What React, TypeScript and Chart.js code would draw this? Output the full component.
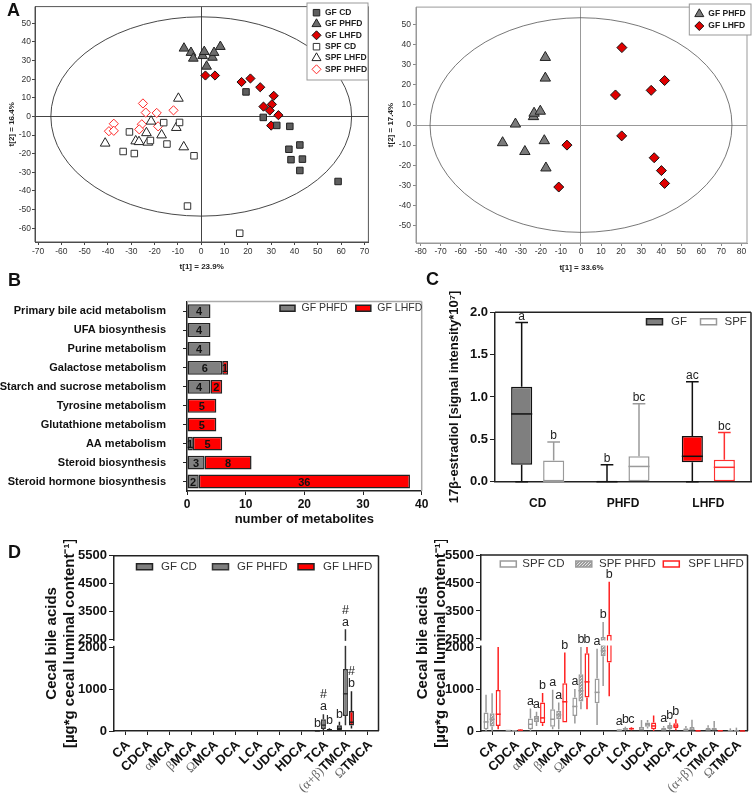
import React, { useEffect, useRef } from 'react';
import { Chart, registerables, LinearScale } from 'chart.js';

Chart.register(...registerables);

const SANS = "'Liberation Sans', Arial, Helvetica, sans-serif";
const SERIF = "'Liberation Serif', 'DejaVu Serif', 'Times New Roman', serif";
Chart.defaults.font.family = SANS;
Chart.defaults.color = '#222';

// ================= DATA =================
// Panel A (left) – PCA scores [t1, t2]
const A1_X_TICKS = [-70, -60, -50, -40, -30, -20, -10, 0, 10, 20, 30, 40, 50, 60, 70];
const A1_Y_TICKS = [-60, -50, -40, -30, -20, -10, 0, 10, 20, 30, 40, 50];
const A1_GF_CD = [[19.2, 13.2], [26.6, -0.5], [32.4, -4.8], [38.0, -5.3], [37.6, -17.6], [42.3, -15.3], [38.5, -23.2], [43.4, -22.9], [42.3, -29.0], [58.7, -34.9]];
const A1_GF_PHFD = [[-7.4, 36.6], [-4.4, 34.3], [-3.4, 31.2], [0.6, 32.6], [1.3, 34.8], [2.3, 26.9], [4.8, 31.7], [5.5, 34.3], [8.2, 37.5]];
const A1_GF_LHFD = [[1.8, 22.0], [5.9, 22.0], [17.3, 18.5], [21.1, 20.4], [25.3, 15.7], [31.1, 11.1], [26.7, 5.3], [30.3, 6.5], [29.4, 3.2], [33.1, 0.7], [30.0, -4.9]];
const A1_SPF_CD = [[-30.8, -8.3], [-33.5, -18.8], [-28.7, -19.9], [-21.8, -12.9], [-16.1, -3.3], [-14.7, -14.8], [-9.3, -3.2], [-3.1, -21.1], [-5.9, -48.1], [16.5, -62.7]];
const A1_SPF_LHFD = [[-41.2, -14.4], [-28.1, -13.2], [-26.7, -13.6], [-22.9, -13.9], [-23.5, -8.8], [-21.5, -2.6], [-17.0, -10.0], [-10.7, -6.0], [-9.8, 9.7], [-7.5, -16.4]];
const A1_SPF_PHFD = [[-39.6, -7.9], [-37.5, -3.9], [-37.5, -7.7], [-25.0, 7.0], [-23.8, 2.1], [-19.1, 1.9], [-25.5, -4.2], [-26.6, -6.9], [-18.5, -5.3], [-11.9, 3.3]];
const A1_ELLIPSE = [64.5, 53.5];

// Panel A (right)
const A2_X_TICKS = [-80, -70, -60, -50, -40, -30, -20, -10, 0, 10, 20, 30, 40, 50, 60, 70, 80];
const A2_Y_TICKS = [-50, -40, -30, -20, -10, 0, 10, 20, 30, 40, 50];
const A2_GF_PHFD = [[-17.8, 33.7], [-17.8, 23.4], [-23.7, 4.2], [-23.4, 5.9], [-20.3, 6.9], [-32.7, 0.5], [-39.1, -8.8], [-18.3, -7.8], [-28.0, -13.2], [-17.5, -21.4]];
const A2_GF_LHFD = [[20.4, 38.6], [17.2, 15.0], [35.0, 17.3], [41.7, 22.2], [20.3, -5.4], [-7.0, -10.0], [-11.1, -30.9], [36.5, -16.3], [40.1, -22.7], [41.7, -29.1]];
const A2_ELLIPSE = [75.3, 53.5];

// Panel B – pathways
const B_PATHWAYS = ['Primary bile acid metabolism', 'UFA biosynthesis', 'Purine metabolism', 'Galactose metabolism', 'Starch and sucrose metabolism', 'Tyrosine metabolism', 'Glutathione metabolism', 'AA metabolism', 'Steroid biosynthesis', 'Steroid hormone biosynthesis'];
const B_GF_PHFD = [4, 4, 4, 6, 4, 0, 0, 1, 3, 2];
const B_GF_LHFD = [0, 0, 0, 1, 2, 5, 5, 5, 8, 36];
const B_X_TICKS = [0, 10, 20, 30, 40];

// Panel C – 17β-estradiol [min, q1, median, q3, max]
const C_DIETS = ['CD', 'PHFD', 'LHFD'];
const C_GF = [[0, 0.2, 0.8, 1.12, 1.88], [0, 0, 0, 0, 0.2], [0, 0.23, 0.3, 0.54, 1.18]];
const C_SPF = [[0, 0, 0, 0.25, 0.47], [0, 0, 0.18, 0.3, 0.92], [0, 0, 0.17, 0.26, 0.58]];
const C_GF_LETTERS = ['a', 'b', 'ac'];
const C_SPF_LETTERS = ['b', 'bc', 'bc'];
const C_Y_TICKS = [0, 0.5, 1.0, 1.5, 2.0];

// Panel D – cecal bile acids [min, q1, median, q3, max]
const D_ACIDS = ['CA', 'CDCA', 'αMCA', 'βMCA', 'ΩMCA', 'DCA', 'LCA', 'UDCA', 'HDCA', 'TCA', '(α+β)TMCA', 'ΩTMCA'];
const D_Y_TICKS = [0, 1000, 2000, 2500, 3500, 4500, 5500];
const D_GF_CD = [null, null, null, null, null, null, null, null, null, [0, 0, 2, 5, 10], [0, 10, 60, 140, 220], null];
const D_GF_PHFD = [null, null, null, null, null, null, null, null, null, [20, 50, 140, 280, 400], [140, 360, 890, 1480, 2860], null];
const D_GF_LHFD = [null, null, null, null, null, null, null, null, null, [0, 10, 25, 45, 65], [60, 130, 210, 480, 950], null];
const D_GF_CD_LETTERS = ['', '', '', '', '', '', '', '', '', 'b', 'b', ''];
const D_GF_PHFD_LETTERS = ['', '', '', '', '', '', '', '', '', ['#', 'a'], ['#', 'a'], ''];
const D_GF_LHFD_LETTERS = ['', '', '', '', '', '', '', '', '', 'b', ['#', 'b'], ''];
const D_SPF_CD = [[0, 40, 216, 440, 864], [0, 5, 10, 15, 25], [0, 40, 160, 296, 536], [40, 104, 280, 520, 980], [176, 360, 584, 800, 1000], [143, 660, 920, 1250, 1960], [0, 10, 20, 35, 50], [0, 0, 40, 96, 260], [0, 0, 30, 80, 120], [0, 0, 20, 64, 120], [0, 0, 30, 80, 136], [0, 0, 5, 10, 64]];
const D_SPF_PHFD = [[0, 110, 280, 420, 900], [0, 2, 5, 8, 12], [120, 216, 296, 360, 456], [40, 280, 384, 480, 680], [520, 700, 960, 1350, 2000], [1070, 1780, 1910, 2570, 3110], [10, 30, 50, 70, 100], [60, 104, 160, 200, 264], [20, 40, 90, 144, 200], [0, 0, 40, 96, 270], [0, 0, 40, 80, 240], [0, 0, 5, 10, 80]];
const D_SPF_LHFD = [[40, 120, 400, 976, 2000], [5, 10, 20, 30, 40], [120, 184, 312, 680, 904], [200, 200, 696, 1140, 1870], [520, 800, 1170, 1850, 2000], [830, 1630, 2300, 2655, 4543], [20, 40, 55, 70, 90], [0, 40, 120, 200, 370], [16, 64, 120, 184, 280], [0, 2, 4, 6, 10], [0, 3, 6, 10, 15], [0, 1, 2, 3, 5]];
const D_SPF_CD_LETTERS = ['', '', 'a', 'a', 'a', 'a', 'a', '', 'a', '', '', ''];
const D_SPF_PHFD_LETTERS = ['', '', 'a', 'a', 'b', 'b', 'b', '', 'b', '', '', ''];
const D_SPF_LHFD_LETTERS = ['', '', 'b', 'b', 'b', 'b', 'c', '', 'b', '', '', ''];

// ================= BROKEN Y SCALE (0–2000 | 2500–5500) =================
const BREAK_LOW = 2000;
const BREAK_HIGH = 2500;
const D_MAX = 5500;
const LOW_FRAC = 0.4772;
const GAP_FRAC = 0.0456;

function brokenDecimal(v: number) {
  if (v <= BREAK_LOW) return (v / BREAK_LOW) * LOW_FRAC;
  if (v <= BREAK_HIGH) return LOW_FRAC + ((v - BREAK_LOW) / (BREAK_HIGH - BREAK_LOW)) * GAP_FRAC;
  return LOW_FRAC + GAP_FRAC + ((v - BREAK_HIGH) / (D_MAX - BREAK_HIGH)) * (1 - LOW_FRAC - GAP_FRAC);
}
function brokenValue(d: number) {
  if (d <= LOW_FRAC) return (d / LOW_FRAC) * BREAK_LOW;
  if (d <= LOW_FRAC + GAP_FRAC) return BREAK_LOW + ((d - LOW_FRAC) / GAP_FRAC) * (BREAK_HIGH - BREAK_LOW);
  return BREAK_HIGH + ((d - LOW_FRAC - GAP_FRAC) / (1 - LOW_FRAC - GAP_FRAC)) * (D_MAX - BREAK_HIGH);
}

class BrokenScale extends LinearScale {
  static id = 'broken';
  static defaults = LinearScale.defaults;
  getPixelForValue(value: any) {
    if (value === null || value === undefined || isNaN(value)) return NaN;
    return this.getPixelForDecimal(brokenDecimal(value));
  }
  getValueForPixel(pixel: number) {
    return brokenValue(this.getDecimalForPixel(pixel));
  }
}
Chart.register(BrokenScale as any);

// ================= PLUGINS =================
const framePlugin = {
  id: 'frame',
  afterDraw(chart: any, _a: any, o: any) {
    if (!o || !o.color) return;
    const { ctx, chartArea } = chart;
    const { left, right, top, bottom } = chartArea;
    const sides = o.sides || 'tlbr';
    ctx.save();
    ctx.strokeStyle = o.color;
    ctx.lineWidth = o.width || 1;
    ctx.beginPath();
    if (sides.includes('t')) { ctx.moveTo(left, top); ctx.lineTo(right, top); }
    if (sides.includes('r')) { ctx.moveTo(right, top); ctx.lineTo(right, bottom); }
    if (sides.includes('b')) { ctx.moveTo(left, bottom); ctx.lineTo(right, bottom); }
    if (sides.includes('l')) { ctx.moveTo(left, top); ctx.lineTo(left, bottom); }
    ctx.stroke();
    ctx.restore();
  },
};

const ellipsePlugin = {
  id: 'ellipse',
  beforeDatasetsDraw(chart: any, _a: any, o: any) {
    if (!o || !o.radii) return;
    const { ctx } = chart;
    const xs = chart.scales.x;
    const ys = chart.scales.y;
    const cx = xs.getPixelForValue(0);
    const cy = ys.getPixelForValue(0);
    const rx = Math.abs(xs.getPixelForValue(o.radii[0]) - cx);
    const ry = Math.abs(ys.getPixelForValue(o.radii[1]) - cy);
    ctx.save();
    ctx.strokeStyle = o.color;
    ctx.lineWidth = o.width || 1;
    ctx.beginPath();
    ctx.ellipse(cx, cy, rx, ry, 0, 0, Math.PI * 2);
    ctx.stroke();
    ctx.restore();
  },
};

function drawMarker(ctx: any, m: any, x: number, y: number) {
  ctx.beginPath();
  if (m.shape === 'rect') {
    ctx.rect(x - m.w / 2, y - m.h / 2, m.w, m.h);
  } else if (m.shape === 'triangle') {
    const r = m.r;
    ctx.moveTo(x, y - r);
    ctx.lineTo(x + r * 0.866, y + r * 0.5);
    ctx.lineTo(x - r * 0.866, y + r * 0.5);
    ctx.closePath();
  } else if (m.shape === 'diamond') {
    const r = m.r;
    ctx.moveTo(x, y - r);
    ctx.lineTo(x + r, y);
    ctx.lineTo(x, y + r);
    ctx.lineTo(x - r, y);
    ctx.closePath();
  }
  ctx.fillStyle = m.fill;
  ctx.fill();
  ctx.strokeStyle = m.stroke;
  ctx.lineWidth = m.lw || 1;
  ctx.stroke();
}

const legendPlugin = {
  id: 'miniLegend',
  afterDraw(chart: any, _a: any, o: any) {
    if (!o || !o.items) return;
    const { ctx } = chart;
    ctx.save();
    if (o.box) {
      ctx.fillStyle = '#fff';
      ctx.fillRect(o.box.x, o.box.y, o.box.w, o.box.h);
      ctx.strokeStyle = o.box.color;
      ctx.lineWidth = 1;
      ctx.strokeRect(o.box.x, o.box.y, o.box.w, o.box.h);
    }
    o.items.forEach((it: any) => {
      drawMarker(ctx, it.marker, it.mx, it.y);
      ctx.font = o.font;
      ctx.fillStyle = o.color;
      ctx.textBaseline = 'middle';
      ctx.textAlign = 'left';
      ctx.fillText(it.text, it.tx, it.y);
    });
    ctx.restore();
  },
};

const barLabelPlugin = {
  id: 'barLabels',
  afterDatasetsDraw(chart: any, _a: any, o: any) {
    if (!o || !o.font) return;
    const { ctx } = chart;
    ctx.save();
    ctx.font = o.font;
    ctx.fillStyle = o.color;
    ctx.textAlign = 'center';
    ctx.textBaseline = 'middle';
    chart.data.datasets.forEach((ds: any, di: number) => {
      const meta = chart.getDatasetMeta(di);
      meta.data.forEach((el: any, i: number) => {
        const v = ds.data[i];
        if (!v) return;
        ctx.fillText(String(v), (el.x + el.base) / 2, el.y + 1);
      });
    });
    ctx.restore();
  },
};

const boxPlugin = {
  id: 'boxplot',
  beforeDatasetsDraw(chart: any, _a: any, o: any) {
    if (!o || !o.stats) return;
    const { ctx } = chart;
    const ys = chart.scales.y;
    ctx.save();
    ctx.lineWidth = o.lineWidth;
    chart.data.datasets.forEach((_ds: any, di: number) => {
      const meta = chart.getDatasetMeta(di);
      meta.data.forEach((el: any, i: number) => {
        const s = o.stats[di][i];
        if (!s) return;
        const yMin = ys.getPixelForValue(s[0]);
        const yQ1 = ys.getPixelForValue(s[1]);
        const yQ3 = ys.getPixelForValue(s[3]);
        const yMax = ys.getPixelForValue(s[4]);
        ctx.strokeStyle = el.options.borderColor;
        ctx.beginPath();
        ctx.moveTo(el.x, yQ3);
        ctx.lineTo(el.x, yMax);
        ctx.moveTo(el.x, yQ1);
        ctx.lineTo(el.x, yMin);
        if (o.cap) {
          const c = (el.width * o.cap) / 2;
          ctx.moveTo(el.x - c, yMax);
          ctx.lineTo(el.x + c, yMax);
          if (s[0] !== s[1]) {
            ctx.moveTo(el.x - c, yMin);
            ctx.lineTo(el.x + c, yMin);
          }
        }
        ctx.stroke();
      });
    });
    ctx.restore();
  },
  afterDatasetsDraw(chart: any, _a: any, o: any) {
    if (!o || !o.stats) return;
    const { ctx, chartArea } = chart;
    const ys = chart.scales.y;
    ctx.save();
    ctx.lineWidth = o.lineWidth;
    chart.data.datasets.forEach((_ds: any, di: number) => {
      const meta = chart.getDatasetMeta(di);
      meta.data.forEach((el: any, i: number) => {
        const s = o.stats[di][i];
        if (!s) return;
        const yMed = ys.getPixelForValue(s[2]);
        ctx.strokeStyle = el.options.borderColor;
        ctx.beginPath();
        ctx.moveTo(el.x - el.width / 2, yMed);
        ctx.lineTo(el.x + el.width / 2, yMed);
        ctx.stroke();
      });
    });
    if (o.breakBand) {
      const yA = ys.getPixelForValue(BREAK_HIGH);
      const yB = ys.getPixelForValue(BREAK_LOW);
      ctx.fillStyle = '#fff';
      ctx.fillRect(chartArea.left - 3, yA + 1.5, chartArea.right - chartArea.left + 2, yB - yA - 3);
    }
    if (o.letters) {
      ctx.font = o.letterFont;
      ctx.fillStyle = o.letterColor;
      ctx.textAlign = 'center';
      ctx.textBaseline = 'bottom';
      chart.data.datasets.forEach((_ds: any, di: number) => {
        const meta = chart.getDatasetMeta(di);
        const letters = o.letters[di];
        letters.forEach((lab: any, i: number) => {
          if (!lab) return;
          const s = o.stats[di][i];
          const el = meta.data[i];
          if (!s || !el) return;
          const lines = Array.isArray(lab) ? lab : [lab];
          let y = ys.getPixelForValue(s[4]) - o.letterGap;
          for (let k = lines.length - 1; k >= 0; k--) {
            ctx.fillText(lines[k], el.x, y);
            y -= o.letterLine;
          }
        });
      });
    }
    ctx.restore();
  },
};

const rotLabelPlugin = {
  id: 'rotLabels',
  afterDraw(chart: any, _a: any, o: any) {
    if (!o || !o.labels) return;
    const { ctx, chartArea } = chart;
    const xs = chart.scales.x;
    o.labels.forEach((lab: string, i: number) => {
      const x = xs.getPixelForValue(i) + o.dx;
      const y = chartArea.bottom + o.dy;
      const k = lab.search(/[A-Z]/);
      const pre = lab.slice(0, k);
      const main = lab.slice(k);
      ctx.save();
      ctx.translate(x, y);
      ctx.rotate(-Math.PI / 4);
      ctx.textBaseline = 'middle';
      ctx.textAlign = 'left';
      ctx.font = o.font;
      const wMain = ctx.measureText(main).width;
      ctx.font = o.greekFont;
      const wPre = ctx.measureText(pre).width;
      ctx.fillStyle = o.greekColor;
      ctx.fillText(pre, -wMain - wPre, 0);
      ctx.font = o.font;
      ctx.fillStyle = o.color;
      ctx.fillText(main, -wMain, 0);
      ctx.restore();
    });
  },
};

// ================= HELPERS =================
function fixedTicks(list: number[]) {
  return (s: any) => {
    s.ticks = list.map((v) => ({ value: v }));
  };
}

function pts(list: number[][]) {
  return list.map(([x, y]) => ({ x, y }));
}

function scatterSet(label: string, list: number[][], style: string, r: number, fill: string, stroke: string) {
  return {
    label,
    data: pts(list),
    pointStyle: style,
    pointRadius: r,
    backgroundColor: fill,
    borderColor: stroke,
    borderWidth: 1,
  };
}

function makeDots() {
  const c = document.createElement('canvas');
  c.width = 3;
  c.height = 3;
  const g = c.getContext('2d') as any;
  g.fillStyle = '#9c9c9c';
  g.fillRect(0, 0, 3, 3);
  g.fillStyle = '#e4e4e4';
  g.fillRect(0, 0, 1, 1);
  g.fillRect(1, 2, 1, 1);
  g.fillRect(2, 1, 1, 1);
  return g.createPattern(c, 'repeat');
}

const TIP_OFF = { legend: { display: false }, tooltip: { enabled: false } };

// ================= CHART CONFIGS =================
function configA1() {
  const tickFont = { size: 8.5 };
  return {
    type: 'scatter',
    data: {
      datasets: [
        scatterSet('GF CD', A1_GF_CD, 'rect', 4.6, '#5e5e5e', '#222'),
        scatterSet('GF PHFD', A1_GF_PHFD, 'triangle', 5.6, '#6c6c6c', '#222'),
        scatterSet('GF LHFD', A1_GF_LHFD, 'rectRot', 4.6, '#e00000', '#111'),
        scatterSet('SPF CD', A1_SPF_CD, 'rect', 4.6, '#ffffff', '#333'),
        scatterSet('SPF LHFD', A1_SPF_LHFD, 'triangle', 5.6, '#ffffff', '#222'),
        scatterSet('SPF PHFD', A1_SPF_PHFD, 'rectRot', 4.6, '#ffffff', '#ff2a2a'),
      ],
    },
    options: {
      responsive: false,
      animation: false,
      layout: { padding: { left: 0, top: 3, right: 3, bottom: 0 } },
      plugins: {
        ...TIP_OFF,
        ellipse: { radii: A1_ELLIPSE, color: '#333', width: 0.9 },
        frame: { color: '#555', width: 1 },
        miniLegend: {
          font: `bold 8.5px ${SANS}`,
          color: '#222',
          box: { x: 307, y: 3, w: 61, h: 77, color: '#999' },
          items: [
            { text: 'GF CD', mx: 316.5, tx: 325, y: 12.7, marker: { shape: 'rect', w: 6.5, h: 6.5, fill: '#5e5e5e', stroke: '#222' } },
            { text: 'GF PHFD', mx: 316.5, tx: 325, y: 24, marker: { shape: 'triangle', r: 5.2, fill: '#6c6c6c', stroke: '#222' } },
            { text: 'GF LHFD', mx: 316.5, tx: 325, y: 35.3, marker: { shape: 'diamond', r: 4.5, fill: '#e00000', stroke: '#111' } },
            { text: 'SPF CD', mx: 316.5, tx: 325, y: 46.7, marker: { shape: 'rect', w: 6.5, h: 6.5, fill: '#fff', stroke: '#333' } },
            { text: 'SPF LHFD', mx: 316.5, tx: 325, y: 58, marker: { shape: 'triangle', r: 5.2, fill: '#fff', stroke: '#222' } },
            { text: 'SPF PHFD', mx: 316.5, tx: 325, y: 69.3, marker: { shape: 'diamond', r: 4.5, fill: '#fff', stroke: '#ff2a2a' } },
          ],
        },
      },
      scales: {
        x: {
          type: 'linear',
          min: -71.3,
          max: 71.7,
          afterBuildTicks: fixedTicks(A1_X_TICKS),
          afterFit: (s: any) => { s.height = 34; },
          grid: { color: (c: any) => (c.tick && c.tick.value === 0 ? '#444' : 'rgba(0,0,0,0)'), tickColor: '#444', tickLength: 3 },
          border: { color: '#444', width: 1 },
          ticks: { font: tickFont, color: '#333', padding: 2, maxRotation: 0, autoSkip: false },
          title: { display: true, text: 't[1] = 23.9%', font: { size: 8, weight: 'bold' }, color: '#222', padding: { top: 0, bottom: 4 } },
        },
        y: {
          type: 'linear',
          min: -67.4,
          max: 59,
          afterBuildTicks: fixedTicks(A1_Y_TICKS),
          afterFit: (s: any) => { s.width = 35; },
          grid: { color: (c: any) => (c.tick && c.tick.value === 0 ? '#444' : 'rgba(0,0,0,0)'), tickColor: '#444', tickLength: 3 },
          border: { color: '#444', width: 1 },
          ticks: { font: tickFont, color: '#333', padding: 1, autoSkip: false },
          title: { display: true, text: 't[2] = 16.4%', font: { size: 8, weight: 'bold' }, color: '#222', padding: { top: 7, bottom: 0 } },
        },
      },
    },
    plugins: [ellipsePlugin, framePlugin, legendPlugin],
  };
}

function configA2() {
  const tickFont = { size: 8.5 };
  return {
    type: 'scatter',
    data: {
      datasets: [
        scatterSet('GF PHFD', A2_GF_PHFD, 'triangle', 6, '#7a7a7a', '#222'),
        scatterSet('GF LHFD', A2_GF_LHFD, 'rectRot', 5, '#e00000', '#111'),
      ],
    },
    options: {
      responsive: false,
      animation: false,
      layout: { padding: { left: 0, top: 3, right: 1.5, bottom: 0 } },
      plugins: {
        ...TIP_OFF,
        ellipse: { radii: A2_ELLIPSE, color: '#555', width: 0.8 },
        frame: { color: '#999', width: 1 },
        miniLegend: {
          font: `bold 8.5px ${SANS}`,
          color: '#222',
          box: { x: 314.3, y: 4, w: 61.7, h: 31, color: '#999' },
          items: [
            { text: 'GF PHFD', mx: 324.3, tx: 333.3, y: 14, marker: { shape: 'triangle', r: 5.2, fill: '#7a7a7a', stroke: '#222' } },
            { text: 'GF LHFD', mx: 324.3, tx: 333.3, y: 26, marker: { shape: 'diamond', r: 4.5, fill: '#e00000', stroke: '#111' } },
          ],
        },
      },
      scales: {
        x: {
          type: 'linear',
          min: -82.3,
          max: 82.8,
          afterBuildTicks: fixedTicks(A2_X_TICKS),
          afterFit: (s: any) => { s.height = 33; },
          grid: { color: (c: any) => (c.tick && c.tick.value === 0 ? '#999' : 'rgba(0,0,0,0)'), tickColor: '#888', tickLength: 3 },
          border: { color: '#999', width: 1 },
          ticks: { font: tickFont, color: '#333', padding: 1, maxRotation: 0, autoSkip: false },
          title: { display: true, text: 't[1] = 33.6%', font: { size: 8, weight: 'bold' }, color: '#222', padding: { top: 0, bottom: 3 } },
        },
        y: {
          type: 'linear',
          min: -58.8,
          max: 58.8,
          afterBuildTicks: fixedTicks(A2_Y_TICKS),
          afterFit: (s: any) => { s.width = 41; },
          grid: { color: (c: any) => (c.tick && c.tick.value === 0 ? '#999' : 'rgba(0,0,0,0)'), tickColor: '#888', tickLength: 3 },
          border: { color: '#999', width: 1 },
          ticks: { font: tickFont, color: '#333', padding: 2, autoSkip: false },
          title: { display: true, text: 't[2] = 17.4%', font: { size: 8, weight: 'bold' }, color: '#222', padding: { top: 11, bottom: 0 } },
        },
      },
    },
    plugins: [ellipsePlugin, framePlugin, legendPlugin],
  };
}

function configB() {
  const common = { borderColor: '#222', borderWidth: 1.5, borderSkipped: false, barPercentage: 0.73, categoryPercentage: 1 };
  return {
    type: 'bar',
    data: {
      labels: B_PATHWAYS,
      datasets: [
        { label: 'GF PHFD', data: B_GF_PHFD, backgroundColor: '#808080', ...common },
        { label: 'GF LHFD', data: B_GF_LHFD, backgroundColor: '#ff0000', ...common },
      ],
    },
    options: {
      indexAxis: 'y',
      responsive: false,
      animation: false,
      layout: { padding: { left: 0, top: 20.5, right: 10.3, bottom: 0 } },
      plugins: {
        ...TIP_OFF,
        frame: { color: '#aaa', width: 1.5, sides: 'tr' },
        barLabels: { font: `bold 11px ${SANS}`, color: '#111' },
        miniLegend: {
          font: `10.5px ${SANS}`,
          color: '#333',
          items: [
            { text: 'GF PHFD', mx: 287.5, tx: 301.5, y: 30.3, marker: { shape: 'rect', w: 15, h: 6, fill: '#808080', stroke: '#222', lw: 1.5 } },
            { text: 'GF LHFD', mx: 363.3, tx: 377.3, y: 30.3, marker: { shape: 'rect', w: 15, h: 6, fill: '#ff0000', stroke: '#222', lw: 1.5 } },
          ],
        },
      },
      scales: {
        x: {
          stacked: true,
          min: 0,
          max: 40,
          afterBuildTicks: fixedTicks(B_X_TICKS),
          afterFit: (s: any) => { s.height = 39; },
          grid: { drawOnChartArea: false, tickLength: 4, tickColor: '#222' },
          border: { color: '#222', width: 1.5 },
          ticks: { font: { size: 12, weight: 'bold' }, color: '#111', padding: 2, maxRotation: 0 },
          title: { display: true, text: 'number of metabolites', font: { size: 13, weight: 'bold' }, color: '#111', padding: { top: 0, bottom: 3 } },
        },
        y: {
          stacked: true,
          afterFit: (s: any) => { s.width = 187; },
          grid: { drawOnChartArea: false, offset: false, tickLength: 4, tickColor: '#222' },
          border: { color: '#222', width: 1.5 },
          ticks: { font: { size: 11, weight: 'bold' }, color: '#111', padding: 17, autoSkip: false },
        },
      },
    },
    plugins: [framePlugin, legendPlugin, barLabelPlugin],
  };
}

function configC() {
  return {
    type: 'bar',
    data: {
      labels: C_DIETS,
      datasets: [
        {
          label: 'GF',
          data: C_GF.map((s) => [s[1], s[3]]),
          backgroundColor: ['#7f7f7f', '#7f7f7f', '#ff0000'],
          borderColor: ['#111', '#111', '#111'],
          borderWidth: 1.5,
          borderSkipped: false,
          categoryPercentage: 0.75,
          barPercentage: 0.66,
        },
        {
          label: 'SPF',
          data: C_SPF.map((s) => [s[1], s[3]]),
          backgroundColor: ['#ffffff', '#ffffff', '#ffffff'],
          borderColor: ['#9a9a9a', '#9a9a9a', '#ff3030'],
          borderWidth: 1.5,
          borderSkipped: false,
          categoryPercentage: 0.75,
          barPercentage: 0.66,
        },
      ],
    },
    options: {
      responsive: false,
      animation: false,
      layout: { padding: { left: 0, top: 42.3, right: 3, bottom: 0 } },
      plugins: {
        ...TIP_OFF,
        frame: { color: '#222', width: 1.5, sides: 'tr' },
        boxplot: {
          stats: [C_GF, C_SPF],
          lineWidth: 1.5,
          cap: 0.6,
          letters: [C_GF_LETTERS, C_SPF_LETTERS],
          letterFont: `12px ${SANS}`,
          letterColor: '#222',
          letterGap: 0,
          letterLine: 12,
        },
        miniLegend: {
          font: `11.5px ${SANS}`,
          color: '#333',
          items: [
            { text: 'GF', mx: 234.5, tx: 251, y: 51.7, marker: { shape: 'rect', w: 16, h: 6, fill: '#7f7f7f', stroke: '#222', lw: 1.5 } },
            { text: 'SPF', mx: 288.5, tx: 304.5, y: 51.7, marker: { shape: 'rect', w: 16, h: 6, fill: '#fff', stroke: '#9a9a9a', lw: 1.5 } },
          ],
        },
      },
      scales: {
        x: {
          afterFit: (s: any) => { s.height = 48.3; },
          grid: { display: false },
          border: { color: '#222', width: 1.5 },
          ticks: { font: { size: 12, weight: 'bold' }, color: '#111', padding: 7 },
        },
        y: {
          min: 0,
          max: 2,
          afterBuildTicks: fixedTicks(C_Y_TICKS),
          afterFit: (s: any) => { s.width = 75; },
          grid: { drawOnChartArea: false, tickLength: 5, tickColor: '#222' },
          border: { color: '#222', width: 1.5 },
          ticks: { font: { size: 13, weight: 'bold' }, color: '#111', padding: 2, callback: (v: any) => Number(v).toFixed(1) },
          title: { display: true, text: '17β-estradiol [signal intensity*10⁷]', font: { size: 13, weight: 'bold' }, color: '#111', padding: { top: 27, bottom: 0 } },
        },
      },
    },
    plugins: [framePlugin, legendPlugin, boxPlugin],
  };
}

function configD(kind: 'GF' | 'SPF') {
  const dots = makeDots();
  const isGF = kind === 'GF';
  const stats = isGF ? [D_GF_CD, D_GF_PHFD, D_GF_LHFD] : [D_SPF_CD, D_SPF_PHFD, D_SPF_LHFD];
  const letters = isGF
    ? [D_GF_CD_LETTERS, D_GF_PHFD_LETTERS, D_GF_LHFD_LETTERS]
    : [D_SPF_CD_LETTERS, D_SPF_PHFD_LETTERS, D_SPF_LHFD_LETTERS];
  const names = isGF ? ['GF CD', 'GF PHFD', 'GF LHFD'] : ['SPF CD', 'SPF PHFD', 'SPF LHFD'];
  const fills = isGF ? ['#7f7f7f', '#7f7f7f', '#ff0000'] : ['#ffffff', dots, '#ffffff'];
  const strokes = isGF ? ['#222', '#333', '#222'] : ['#9a9a9a', '#9a9a9a', '#ff2020'];
  const legendX = isGF ? [144.5, 220.5, 306] : [123.3, 198.8, 286.3];
  const legendTX = isGF ? [161, 237, 323] : [137.3, 214, 303.3];
  const legendY = isGF ? 26.7 : 24;
  const padLeft = isGF ? 43 : 29;
  const axisRight = isGF ? 114 : 96;
  return {
    type: 'bar',
    data: {
      labels: D_ACIDS,
      datasets: stats.map((st, di) => ({
        label: names[di],
        data: st.map((s) => (s ? [s[1], s[3]] : null)),
        backgroundColor: fills[di],
        borderColor: strokes[di],
        borderWidth: 1.5,
        borderSkipped: false,
        categoryPercentage: 0.82,
        barPercentage: 0.83,
      })),
    },
    options: {
      responsive: false,
      animation: false,
      layout: { padding: { left: padLeft, top: isGF ? 15.7 : 15, right: 6.5, bottom: 0 } },
      plugins: {
        ...TIP_OFF,
        frame: { color: '#222', width: 1.5, sides: 'tr' },
        boxplot: {
          stats,
          lineWidth: 1.5,
          cap: 0,
          breakBand: true,
          letters,
          letterFont: `12.5px ${SANS}`,
          letterColor: '#222',
          letterGap: 1,
          letterLine: 12,
        },
        rotLabels: {
          labels: D_ACIDS,
          dx: 3,
          dy: 12,
          font: `bold 13px ${SANS}`,
          color: '#111',
          greekFont: `13px ${SERIF}`,
          greekColor: '#666',
        },
        miniLegend: {
          font: `11.5px ${SANS}`,
          color: '#333',
          items: names.map((n, i) => ({
            text: n,
            mx: legendX[i],
            tx: legendTX[i],
            y: legendY,
            marker: { shape: 'rect', w: 16, h: 6, fill: fills[i], stroke: strokes[i], lw: 1.5 },
          })),
        },
      },
      scales: {
        x: {
          afterFit: (s: any) => { s.height = 66; },
          grid: { drawOnChartArea: false, offset: false, tickLength: 4, tickColor: '#222' },
          border: { color: '#222', width: 1.5 },
          ticks: { display: false },
        },
        y: {
          type: 'broken',
          min: 0,
          max: D_MAX,
          afterBuildTicks: fixedTicks(D_Y_TICKS),
          afterFit: (s: any) => { s.width = axisRight - padLeft; },
          grid: { drawOnChartArea: false, tickLength: 5, tickColor: '#222' },
          border: { color: '#222', width: 1.5 },
          ticks: { font: { size: 13, weight: 'bold' }, color: '#111', padding: 2, autoSkip: false, callback: (v: any) => String(v) },
          title: {
            display: true,
            text: ['Cecal bile acids', '[µg*g cecal luminal content⁻¹]'],
            font: { size: 15, weight: 'bold', lineHeight: 1.2 },
            color: '#111',
            padding: { top: 0, bottom: 0 },
          },
        },
      },
    },
    plugins: [framePlugin, legendPlugin, boxPlugin, rotLabelPlugin],
  };
}

// ================= COMPONENTS =================
function ChartBox({ left, top, width, height, make }: any) {
  const ref = useRef<HTMLCanvasElement | null>(null);
  useEffect(() => {
    const chart = new Chart(ref.current as any, make());
    return () => chart.destroy();
  }, []);
  return (
    <canvas
      ref={ref}
      width={width}
      height={height}
      style={{ position: 'absolute', left, top, width, height }}
    />
  );
}

const panelLabel = (text: string, left: number, top: number) => (
  <div
    style={{
      position: 'absolute',
      left,
      top,
      font: `bold 18px ${SANS}`,
      lineHeight: '18px',
      color: '#111',
    }}
  >
    {text}
  </div>
);

export default function App() {
  return (
    <div style={{ position: 'absolute', left: 0, top: 0, width: 754, height: 797, background: '#fff', overflow: 'hidden' }}>
      <ChartBox left={0} top={0} width={375} height={276} make={configA1} />
      <ChartBox left={375} top={0} width={379} height={276} make={configA2} />
      <ChartBox left={0} top={278} width={432} height={252} make={configB} />
      <ChartBox left={420} top={270} width={334} height={260} make={configC} />
      <ChartBox left={0} top={540} width={385} height={257} make={() => configD('GF')} />
      <ChartBox left={385} top={540} width={369} height={257} make={() => configD('SPF')} />
      {panelLabel('A', 7, 1)}
      {panelLabel('B', 8, 271)}
      {panelLabel('C', 426, 270)}
      {panelLabel('D', 8, 543)}
    </div>
  );
}
